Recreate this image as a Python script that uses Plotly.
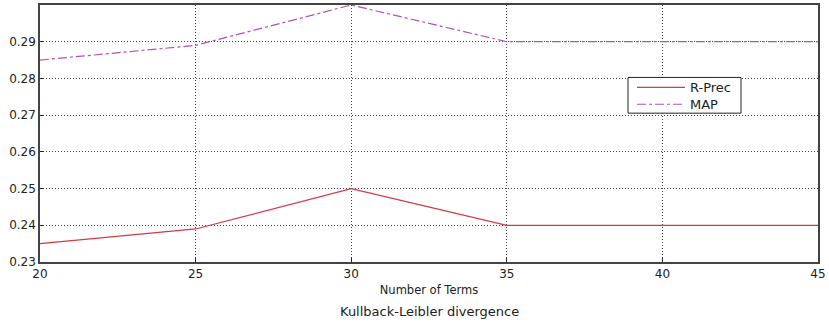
import plotly.graph_objects as go

terms = [20, 25, 30, 35, 40, 45]
r_prec = [0.235, 0.239, 0.250, 0.240, 0.240, 0.240]
map_vals = [0.285, 0.289, 0.300, 0.290, 0.290, 0.290]
y_ticks = [0.23, 0.24, 0.25, 0.26, 0.27, 0.28, 0.29]
x_ticks = [20, 25, 30, 35, 40, 45]
series_names = ["R-Prec", "MAP"]
series_colors = ["#d33a45", "#b250b8"]
series_dash = ["solid", "dashdot"]

# plot-area geometry in pixels (for paper-coordinate conversion of legend/caption)
W, H = 829, 323
L, R, T, B = 40, 11, 3, 61
PW, PH = W - L - R, H - T - B


def px(x):
    return (x - L) / PW


def py(y):
    return 1 - (y - T) / PH


FAM = "DejaVu Sans"
TXT = "#222222"

fig = go.Figure()
for name, vals, col, dash in zip(series_names, [r_prec, map_vals], series_colors, series_dash):
    fig.add_trace(go.Scatter(x=terms, y=vals, mode="lines", name=name,
                             line=dict(color=col, width=1.2, dash=dash)))

font = dict(family=FAM, size=12, color=TXT)

shapes = [dict(type="rect", xref="paper", yref="paper",
               x0=px(628), x1=px(741), y0=py(112), y1=py(76),
               line=dict(color=TXT, width=1), fillcolor="white", layer="above")]
annotations = []
for i, (name, col, dash) in enumerate(zip(series_names, series_colors, series_dash)):
    yy = py(86 + 17 * i)
    shapes.append(dict(type="line", xref="paper", yref="paper",
                       x0=px(637), x1=px(685), y0=yy, y1=yy,
                       line=dict(color=col, width=1.2, dash=dash), layer="above"))
    annotations.append(dict(text=name, xref="paper", yref="paper", x=px(688), y=yy,
                            xanchor="left", yanchor="middle", showarrow=False,
                            font=dict(family=FAM, size=13, color=TXT)))
annotations.append(dict(text="Kullback-Leibler divergence", x=0.5, y=py(312), xref="paper",
                        yref="paper", showarrow=False, xanchor="center", yanchor="middle",
                        font=dict(family=FAM, size=13, color=TXT)))

fig.update_layout(
    width=W, height=H,
    margin=dict(l=L, r=R, t=T, b=B),
    paper_bgcolor="white", plot_bgcolor="white",
    font=font,
    showlegend=False,
    xaxis=dict(range=[20, 45], tickvals=x_ticks, ticktext=[str(v) for v in x_ticks],
               showgrid=True, gridcolor="#444444", griddash="1px,2px", gridwidth=1,
               ticks="inside", ticklen=4, tickcolor=TXT,
               showline=True, linecolor="#444444", linewidth=1.5, mirror=True,
               zeroline=False, tickfont=font,
               title=dict(text="Number of Terms", standoff=6,
                          font=dict(family=FAM, size=11.5, color=TXT))),
    yaxis=dict(range=[0.23, 0.30], tickvals=y_ticks, ticktext=[f"{v:.2f}" for v in y_ticks],
               showgrid=True, gridcolor="#444444", griddash="1px,2px", gridwidth=1,
               ticks="inside", ticklen=4, tickcolor=TXT,
               showline=True, linecolor="#444444", linewidth=1.5, mirror=True,
               zeroline=False, tickfont=font),
    shapes=shapes,
    annotations=annotations,
)
fig.write_html("out.html")
